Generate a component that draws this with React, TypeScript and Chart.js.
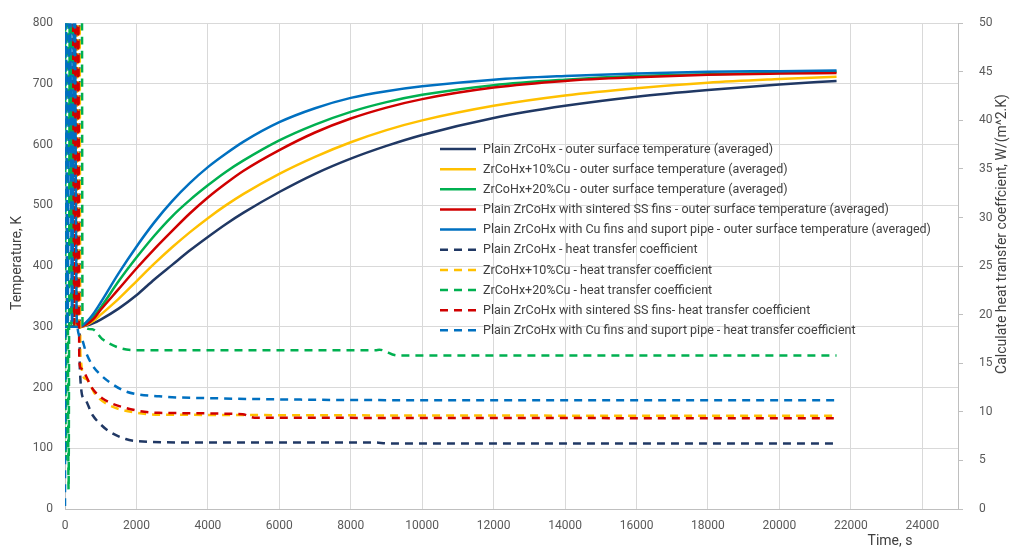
import { useEffect, useRef } from "react";
import { Chart, registerables } from "chart.js";

Chart.register(...registerables);

const FONT = "Roboto";

// Axis tick values
const xTickValues = [0, 2000, 4000, 6000, 8000, 10000, 12000, 14000, 16000, 18000, 20000, 22000, 24000];

// Outer surface temperature (K) against time (s)
const tempTime = [0, 400, 600, 800, 1000, 1500, 2000, 2500, 3000, 3500, 4000, 4500, 5000, 6000, 7000, 8000, 9000, 10000, 12000, 14000, 16000, 18000, 20000, 21600];
const tempPlain = [300, 300, 302, 306, 312, 330, 352, 378, 402, 426, 448, 469, 488, 522, 552, 577, 598, 616, 644, 664, 679, 690, 699, 705];
const tempCu10 = [300, 300, 303, 310, 320, 346, 375, 404, 431, 456, 479, 500, 519, 552, 580, 604, 624, 640, 664, 681, 693, 702, 708, 712];
const tempCu20 = [300, 300, 306, 317, 332, 375, 414, 450, 482, 509, 533, 555, 574, 607, 633, 654, 670, 682, 698, 707, 713, 716, 718, 720];
const tempSSFins = [300, 300, 304, 313, 328, 362, 396, 428, 458, 487, 513, 536, 557, 591, 620, 643, 661, 675, 694, 705, 711, 715, 717, 718];
const tempCuFins = [300, 300, 308, 322, 340, 388, 432, 472, 507, 537, 563, 585, 605, 637, 660, 677, 688, 696, 707, 713, 717, 720, 721, 722];

// Heat transfer coefficient, W/(m^2.K), each with its own time steps
const htcPlainTime = [200, 240, 280, 320, 360, 395, 415, 530, 765, 1000, 1230, 1700, 2000, 3600, 8700, 9000, 21600];
const htcPlain = [60, 19, 60, 19, 60, 60, 14.5, 11.4, 9.7, 8.7, 8.0, 7.2, 7.0, 6.85, 6.85, 6.75, 6.75];

const htcCu10Time = [270, 310, 350, 380, 405, 430, 580, 860, 1230, 2000, 3000, 21600];
const htcCu10 = [60, 19, 60, 19, 60, 16, 13.4, 11.75, 10.7, 9.9, 9.7, 9.6];

const htcCu20Time = [0, 20, 50, 100, 140, 180, 220, 260, 300, 470, 490, 765, 1040, 1510, 2000, 4000, 8700, 8800, 9300, 12000, 16000, 21600];
const htcCu20 = [60, 5, 60, 2, 60, 19, 60, 19, 60, 60, 19, 18.5, 17.5, 16.6, 16.35, 16.35, 16.35, 16.4, 15.8, 15.8, 15.8, 15.8];

const htcSSFinsTime = [220, 260, 300, 340, 370, 400, 440, 765, 1040, 1700, 2630, 4970, 5300, 21600];
const htcSSFins = [60, 19, 60, 19, 60, 15.5, 14.5, 12.4, 11.4, 10.4, 9.9, 9.75, 9.4, 9.35];

const htcCuFinsTime = [0, 15, 70, 130, 200, 260, 330, 440, 600, 765, 1000, 1230, 1700, 2630, 4200, 6800, 10000, 14000, 18000, 21600];
const htcCuFins = [0.3, 60, 19, 60, 19, 60, 19.5, 17.7, 16.0, 14.8, 13.8, 13.1, 12.1, 11.6, 11.4, 11.25, 11.2, 11.2, 11.2, 11.2];

const seriesLabels = [
  "Plain ZrCoHx - outer surface temperature (averaged)",
  "ZrCoHx+10%Cu - outer surface temperature (averaged)",
  "ZrCoHx+20%Cu - outer surface temperature (averaged)",
  "Plain ZrCoHx with sintered SS fins - outer surface temperature (averaged)",
  "Plain ZrCoHx with Cu fins and suport pipe - outer surface temperature (averaged)",
  "Plain ZrCoHx - heat transfer coefficient",
  "ZrCoHx+10%Cu - heat transfer coefficient",
  "ZrCoHx+20%Cu - heat transfer coefficient",
  "Plain ZrCoHx with sintered SS fins- heat transfer coefficient",
  "Plain ZrCoHx with Cu fins and suport pipe - heat transfer coefficient",
];

const seriesColors = ["#203864", "#ffc000", "#00b050", "#d00000", "#0070c0"];

const xAxisTitle = "Time, s";
const leftAxisTitle = "Temperature, K";
const rightAxisTitle = "Calculate heat transfer coeffcient, W/(m^2.K)";

const DASH = [8, 6];

function points(xs: number[], ys: number[]) {
  return xs.map((x, i) => ({ x, y: ys[i] }));
}

// Legend inside the plot and the axis titles
const overlayPlugin = {
  id: "overlay",
  afterDraw(chart: any) {
    const ctx = chart.ctx as CanvasRenderingContext2D;
    ctx.save();
    const x0 = 440;
    const y0 = 149;
    const rowH = 20.15;
    ctx.font = `12.5px ${FONT}`;
    ctx.textBaseline = "middle";
    ctx.textAlign = "left";
    chart.data.datasets.forEach((ds: any, i: number) => {
      const y = y0 + i * rowH;
      ctx.beginPath();
      ctx.setLineDash(ds.borderDash && ds.borderDash.length ? DASH : []);
      ctx.strokeStyle = ds.borderColor;
      ctx.lineWidth = 2.5;
      ctx.moveTo(x0, y);
      ctx.lineTo(x0 + 36, y);
      ctx.stroke();
      ctx.setLineDash([]);
      ctx.fillStyle = "#404040";
      ctx.fillText(ds.label, x0 + 43, y + 0.5);
    });

    ctx.fillStyle = "#404040";
    ctx.font = `14px ${FONT}`;
    ctx.textAlign = "center";
    ctx.textBaseline = "middle";
    ctx.fillText(xAxisTitle, 890, 541);

    ctx.save();
    ctx.translate(17, 263);
    ctx.rotate(-Math.PI / 2);
    ctx.fillText(leftAxisTitle, 0, 0);
    ctx.restore();

    ctx.save();
    ctx.translate(1002, 234);
    ctx.rotate(-Math.PI / 2);
    ctx.fillText(rightAxisTitle, 0, 0);
    ctx.restore();

    ctx.restore();
  },
};

export default function App() {
  const canvasRef = useRef<HTMLCanvasElement | null>(null);

  useEffect(() => {
    document.body.style.margin = "0";
    const canvas = canvasRef.current;
    if (!canvas) return;

    const tempSeries = [tempPlain, tempCu10, tempCu20, tempSSFins, tempCuFins];
    const htcSeries: [number[], number[]][] = [
      [htcPlainTime, htcPlain],
      [htcCu10Time, htcCu10],
      [htcCu20Time, htcCu20],
      [htcSSFinsTime, htcSSFins],
      [htcCuFinsTime, htcCuFins],
    ];

    const datasets: any[] = [];
    tempSeries.forEach((vals, i) => {
      datasets.push({
        label: seriesLabels[i],
        data: points(tempTime, vals),
        borderColor: seriesColors[i],
        backgroundColor: seriesColors[i],
        borderWidth: 2.5,
        pointRadius: 0,
        cubicInterpolationMode: "monotone",
        yAxisID: "y",
        order: 20 - i,
      });
    });
    htcSeries.forEach(([ts, vals], i) => {
      datasets.push({
        label: seriesLabels[i + 5],
        data: points(ts, vals),
        borderColor: seriesColors[i],
        backgroundColor: seriesColors[i],
        borderWidth: 2.5,
        borderDash: DASH,
        pointRadius: 0,
        cubicInterpolationMode: "monotone",
        yAxisID: "y1",
        order: 10 - i,
      });
    });

    const gridColor = "#d9d9d9";
    const tickColor = "#595959";

    const chart = new Chart(canvas, {
      type: "line",
      data: { datasets },
      plugins: [overlayPlugin],
      options: {
        animation: false,
        responsive: false,
        devicePixelRatio: 1,
        layout: { padding: { top: 17, left: 0, right: 0, bottom: 0 } },
        plugins: {
          legend: { display: false },
          tooltip: { enabled: false },
        },
        scales: {
          x: {
            type: "linear",
            min: 0,
            max: 25000,
            afterFit: (s: any) => {
              s.height = 50;
            },
            afterBuildTicks: (s: any) => {
              s.ticks = xTickValues.map((v) => ({ value: v }));
            },
            ticks: {
              autoSkip: false,
              padding: 10,
              color: tickColor,
              font: { family: FONT, size: 12 },
              maxRotation: 0,
              callback: (v: any) => String(v),
            },
            grid: { color: gridColor, drawTicks: false, lineWidth: 1 },
            border: { color: "#bfbfbf", width: 1 },
          },
          y: {
            type: "linear",
            position: "left",
            min: 0,
            max: 800,
            afterFit: (s: any) => {
              s.width = 65;
            },
            ticks: {
              stepSize: 100,
              maxTicksLimit: 30,
              padding: 12,
              color: tickColor,
              font: { family: FONT, size: 12 },
            },
            grid: { color: gridColor, drawTicks: false, lineWidth: 1 },
            border: { color: "#bfbfbf", width: 1 },
          },
          y1: {
            type: "linear",
            position: "right",
            min: 0,
            max: 50,
            afterFit: (s: any) => {
              s.width = 66;
            },
            ticks: {
              stepSize: 5,
              maxTicksLimit: 30,
              padding: 16,
              color: tickColor,
              font: { family: FONT, size: 12 },
            },
            grid: {
              drawOnChartArea: false,
              drawTicks: true,
              tickLength: 5,
              color: "#bfbfbf",
            },
            border: { color: "#bfbfbf", width: 1 },
          },
        },
      } as any,
    });

    return () => chart.destroy();
  }, []);

  return (
    <div style={{ width: 1024, height: 559, background: "#ffffff" }}>
      <canvas ref={canvasRef} width={1024} height={559} />
    </div>
  );
}
